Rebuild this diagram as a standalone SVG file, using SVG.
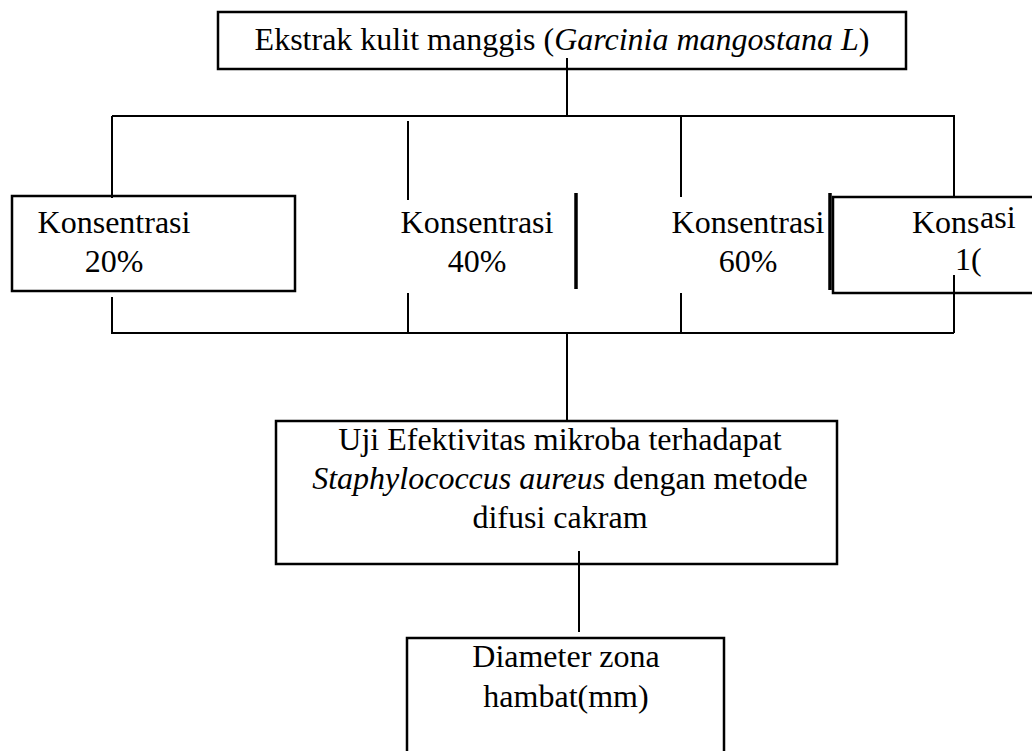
<svg xmlns="http://www.w3.org/2000/svg" width="1032" height="751" viewBox="0 0 1032 751">
<style>
.box{fill:#fff;stroke:#000;stroke-width:2.5}
.ln{stroke:#000;stroke-width:2;fill:none}
.bar{stroke:#000;stroke-width:3.5;fill:none}
.t{font-family:"Liberation Serif","Times New Roman",serif;font-size:32px;fill:#000}
.m{text-anchor:middle}
.i{font-style:italic}
</style>
<rect width="1032" height="751" fill="#fff"/>
<g id="n-top">
<rect class="box" x="218" y="12" width="688" height="57"/>
<text class="t m" x="562" y="50">Ekstrak kulit manggis (<tspan class="i">Garcinia mangostana L</tspan>)</text>
</g>
<g id="n-20">
<rect class="box" x="12" y="196" width="283" height="95"/>
<text class="t m" x="114" y="233">Konsentrasi</text>
<text class="t m" x="114" y="272">20%</text>
</g>
<g id="n-40">
<text class="t m" x="477" y="233">Konsentrasi</text>
<text class="t m" x="477" y="272">40%</text>
</g>
<g id="n-60">
<text class="t m" x="748" y="233">Konsentrasi</text>
<text class="t m" x="748" y="272">60%</text>
</g>
<g id="n-100">
<rect class="box" x="833" y="197" width="210" height="96"/>
<text class="t" x="912" y="233">Kons</text>
<text class="t" x="980" y="228">asi</text>
<text class="t" x="955" y="270">1(</text>
</g>
<g id="n-uji">
<rect class="box" x="276" y="421" width="561" height="143"/>
<text class="t m" x="560" y="450">Uji Efektivitas mikroba terhadapat</text>
<text class="t m" x="560" y="489"><tspan class="i">Staphylococcus aureus</tspan> dengan metode</text>
<text class="t m" x="560" y="528">difusi cakram</text>
</g>
<g id="n-diameter">
<path class="box" d="M407 760 V638 H724 V760"/>
<text class="t m" x="566" y="667">Diameter zona</text>
<text class="t m" x="566" y="707">hambat(mm)</text>
</g>
<g id="connectors">
<path class="ln" d="M567 58 V116"/>
<path class="ln" d="M112 116 H955"/>
<path class="ln" d="M112 116 V198"/>
<path class="ln" d="M408 121 V200"/>
<path class="ln" d="M681 116 V197"/>
<path class="ln" d="M954 116 V196"/>
<path class="bar" d="M576 193 V289"/>
<path class="bar" d="M830 193 V290"/>
<path class="ln" d="M112 297 V333 H954"/>
<path class="ln" d="M408 293 V333"/>
<path class="ln" d="M681 293 V333"/>
<path class="ln" d="M954 275 V333"/>
<path class="ln" d="M567 333 V421"/>
<path class="ln" d="M579 551 V632"/>
</g>
</svg>
